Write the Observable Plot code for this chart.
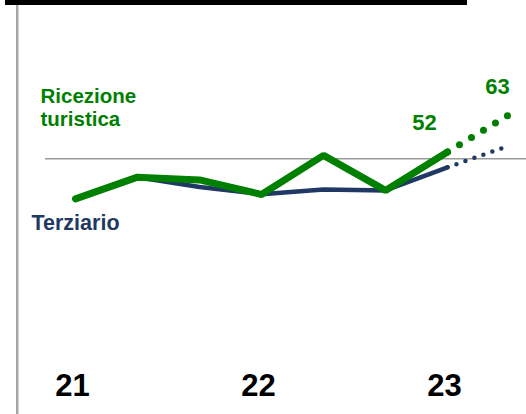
<!DOCTYPE html>
<html><head><meta charset="utf-8">
<script src="https://cdn.jsdelivr.net/npm/d3@7"></script>
<script src="https://cdn.jsdelivr.net/npm/@observablehq/plot@0.6"></script>
<style>
html,body{margin:0;padding:0;background:#fff;}
#wrap{position:relative;width:526px;height:414px;overflow:hidden;}
#topbar{position:absolute;left:5px;top:0;width:462px;height:5px;background:#000;}
#vline{position:absolute;left:16px;top:5px;width:2px;height:409px;background:#a6a6a6;border-right:1px solid #d6d6d6;}
#chart svg{display:block;}
</style></head><body>
<div id="wrap"><div id="chart"></div><div id="topbar"></div><div id="vline"></div></div>
<script>
// periods (three per year), labels on the first of each year
const periods = [0, 1, 2, 3, 4, 5, 6];
const yearTicks = [0, 3, 6];
const yearLabels = ["21", "22", "23"];
// observed values
const ricezione = [38.2, 44.6, 43.8, 39.5, 51.0, 40.7, 52];
const terziario = [38.2, 44.6, 41.7, 39.6, 41.0, 40.7, 47.5];
// forecast
const forecastPeriod = 7;
const ricezioneForecast = 63;
const terziarioForecast = 53.9;
const threshold = 50;
const seriesNames = ["Ricezione\nturistica", "Terziario"];

const GREEN = "#008000", NAVY = "#1f3864";

const ricRows = periods.map((p, i) => ({x: p, y: ricezione[i]}));
const terRows = periods.map((p, i) => ({x: p, y: terziario[i]}));
const ricFc = [ricRows[ricRows.length - 1], {x: forecastPeriod, y: ricezioneForecast}];
const terFc = [terRows[terRows.length - 1], {x: forecastPeriod, y: terziarioForecast}];

const chart = Plot.plot({
  width: 526,
  height: 414,
  marginTop: 107.3,
  marginBottom: 187.7,
  marginLeft: 45,
  marginRight: 0,
  style: {fontFamily: "'Liberation Sans', Arial, sans-serif", background: "transparent"},
  x: {domain: [-30 / 62, 451 / 62], axis: null},
  y: {domain: [30, 65], axis: null},
  marks: [
    Plot.ruleY([threshold], {stroke: "#9a9a9a", strokeWidth: 1.4}),
    Plot.line(terFc, {x: "x", y: "y", stroke: NAVY, strokeWidth: 4.5, strokeLinecap: "round", strokeDasharray: "0,9.5"}),
    Plot.line(terRows, {x: "x", y: "y", stroke: NAVY, strokeWidth: 4.5, strokeLinejoin: "round", strokeLinecap: "round"}),
    Plot.line(ricFc, {x: "x", y: "y", stroke: GREEN, strokeWidth: 7, strokeLinecap: "round", strokeDasharray: "0,14"}),
    Plot.line(ricRows, {x: "x", y: "y", stroke: GREEN, strokeWidth: 7, strokeLinejoin: "miter", strokeLinecap: "round"}),
    Plot.text([ricRows[ricRows.length - 1]], {x: "x", y: "y", text: d => String(Math.round(d.y)), fill: GREEN, fontSize: 22, fontWeight: "bold", lineAnchor: "bottom", dx: -23, dy: -22}),
    Plot.text([ricFc[1]], {x: "x", y: "y", text: d => String(Math.round(d.y)), fill: GREEN, fontSize: 22, fontWeight: "bold", lineAnchor: "bottom", dx: -12, dy: -21}),
    Plot.text([ricRows[0]], {x: "x", y: "y", text: () => seriesNames[0], fill: GREEN, fontSize: 20.5, fontWeight: "bold", textAnchor: "start", lineAnchor: "bottom", lineHeight: 1.11, dx: -35, dy: -73}),
    Plot.text([terRows[0]], {x: "x", y: "y", text: () => seriesNames[1], fill: NAVY, fontSize: 21.5, fontWeight: "bold", textAnchor: "start", lineAnchor: "bottom", dx: -44, dy: 31}),
    Plot.text(yearTicks, {x: d => d, text: (d, i) => yearLabels[i], frameAnchor: "bottom", lineAnchor: "bottom", dx: -3, dy: 168.7, fontSize: 31, fontWeight: "bold", fill: "#000"})
  ]
});
document.getElementById("chart").appendChild(chart);
</script>
</body></html>
